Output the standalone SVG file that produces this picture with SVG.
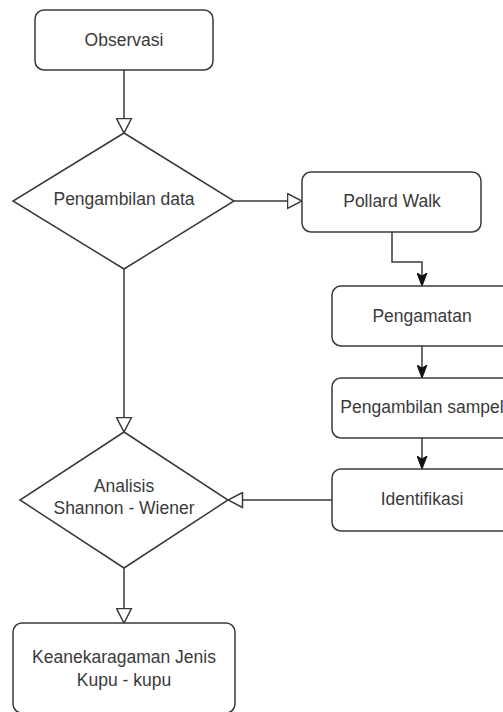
<svg xmlns="http://www.w3.org/2000/svg" width="503" height="712" viewBox="0 0 503 712">
<style>
.box{fill:#fff;stroke:#3a3a3a;stroke-width:1.5}
.lbl{font-family:"Liberation Sans",Arial,sans-serif;font-size:17.5px;fill:#3a3a3a;text-anchor:middle}
.edge{fill:none;stroke:#3a3a3a;stroke-width:1.5}
</style>
<defs>
<marker id="open" markerUnits="userSpaceOnUse" markerWidth="16" markerHeight="17" refX="14.5" refY="7.5" orient="auto" viewBox="-1 -1 16 17">
<path d="M0,0 L14.5,7.5 L0,15 Z" fill="#fff" stroke="#3a3a3a" stroke-width="1.5"/>
</marker>
<marker id="fill" markerUnits="userSpaceOnUse" markerWidth="14" markerHeight="11" refX="13" refY="5" orient="auto" viewBox="0 0 14 10">
<path d="M0,0 L13,5 L0,10 L3,5 Z" fill="#111" stroke="#111" stroke-width="1"/>
</marker>
</defs>
<rect width="503" height="712" fill="#fff"/>
<g id="edges">
<path class="edge" d="M124,70 L124,133" marker-end="url(#open)"/>
<path class="edge" d="M234,201 L302,201" marker-end="url(#open)"/>
<path class="edge" d="M392,232 L392,262 L422,262 L422,286" marker-end="url(#fill)"/>
<path class="edge" d="M422,346 L422,378" marker-end="url(#fill)"/>
<path class="edge" d="M422,438 L422,469" marker-end="url(#fill)"/>
<path class="edge" d="M332,500 L228,500" marker-end="url(#open)"/>
<path class="edge" d="M124,269 L124,432" marker-end="url(#open)"/>
<path class="edge" d="M124,568 L124,623" marker-end="url(#open)"/>
</g>
<g id="observasi">
<rect class="box" x="35" y="10" width="178" height="60" rx="9"/>
<text class="lbl" x="124" y="46">Observasi</text>
</g>
<g id="pengambilan-data">
<polygon class="box" points="124,133 234,201 124,269 13,201"/>
<text class="lbl" x="124" y="205">Pengambilan data</text>
</g>
<g id="pollard-walk">
<rect class="box" x="302" y="172" width="179" height="60" rx="9"/>
<text class="lbl" x="392" y="207">Pollard Walk</text>
</g>
<g id="pengamatan">
<rect class="box" x="332" y="286" width="180" height="60" rx="9"/>
<text class="lbl" x="422" y="322">Pengamatan</text>
</g>
<g id="pengambilan-sampel">
<rect class="box" x="332" y="378" width="180" height="60" rx="9"/>
<text class="lbl" x="422" y="413">Pengambilan sampel</text>
</g>
<g id="identifikasi">
<rect class="box" x="332" y="469" width="180" height="62" rx="9"/>
<text class="lbl" x="422" y="505">Identifikasi</text>
</g>
<g id="analisis">
<polygon class="box" points="124,432 228,500 124,568 20,500"/>
<text class="lbl" x="124" y="492">Analisis</text>
<text class="lbl" x="124" y="514">Shannon - Wiener</text>
</g>
<g id="keanekaragaman">
<rect class="box" x="13" y="623" width="222" height="90" rx="9"/>
<text class="lbl" x="124" y="663">Keanekaragaman Jenis</text>
<text class="lbl" x="124" y="686">Kupu - kupu</text>
</g>
</svg>
